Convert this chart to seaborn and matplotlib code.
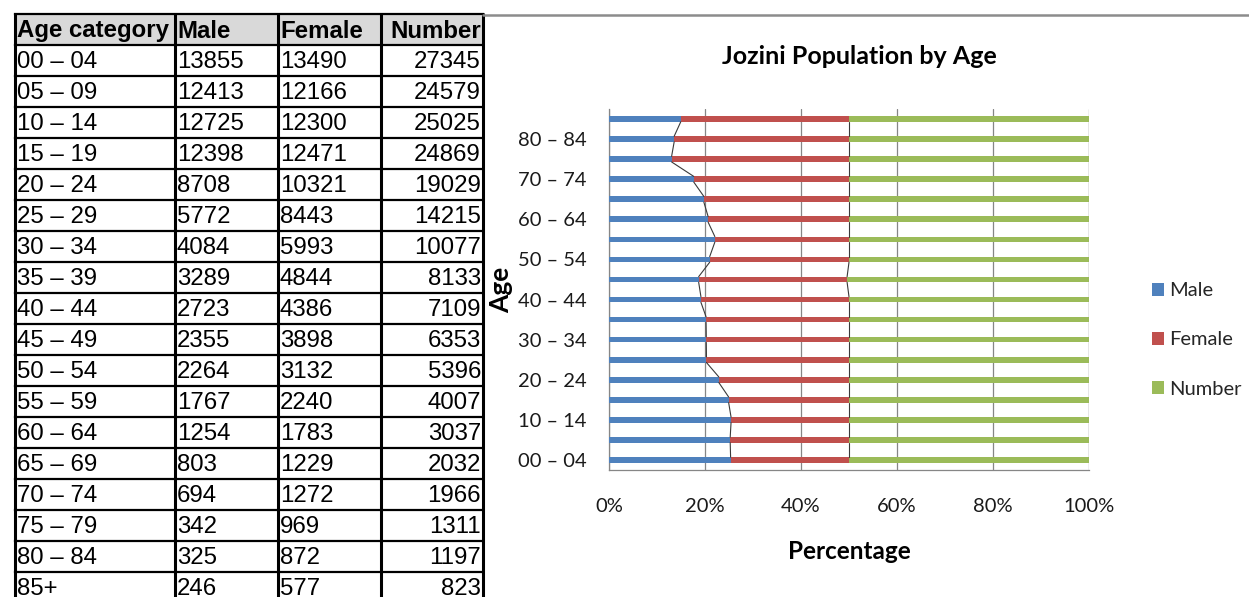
import matplotlib
matplotlib.use("Agg")
import matplotlib.pyplot as plt
import matplotlib.ticker as mtick
from matplotlib.patches import Patch, Rectangle
import pandas as pd
import seaborn as sns

sns.set_theme(style="white")
NARROW = ["Lato", "DejaVu Sans"]
ARIAL = ["Liberation Sans", "DejaVu Sans"]
plt.rcParams["font.family"] = NARROW

AGE_GROUPS = [
    "00 – 04", "05 – 09", "10 – 14", "15 – 19", "20 – 24", "25 – 29",
    "30 – 34", "35 – 39", "40 – 44", "45 – 49", "50 – 54", "55 – 59",
    "60 – 64", "65 – 69", "70 – 74", "75 – 79", "80 – 84", "85+",
]
MALE = [13855, 12413, 12725, 12398, 8708, 5772, 4084, 3289, 2723,
        2355, 2264, 1767, 1254, 803, 694, 342, 325, 246]
FEMALE = [13490, 12166, 12300, 12471, 10321, 8443, 5993, 4844, 4386,
          3898, 3132, 2240, 1783, 1229, 1272, 969, 872, 577]
NUMBER = [27345, 24579, 25025, 24869, 19029, 14215, 10077, 8133, 7109,
          6353, 5396, 4007, 3037, 2032, 1966, 1311, 1197, 823]
TABLE_HEADER = ["Age category", "Male", "Female", "Number"]
SERIES = ["Male", "Female", "Number"]

BLUE, RED, GREEN = "#4f81bd", "#c0504d", "#9bbb59"
GRID = "#868686"
BAR_W = 0.28

W, H = 1249, 597
fig = plt.figure(figsize=(W / 100, H / 100), dpi=100)

# ---- data table on the left (pixel coordinates) ----
tab = fig.add_axes([0, 0, 1, 1])
tab.set_xlim(0, W)
tab.set_ylim(H, 0)
tab.axis("off")

col_x = [15, 175, 278, 381, 483]
row_top, row_h = 14, 31
n_rows = len(AGE_GROUPS) + 1
tab.add_patch(Rectangle((col_x[0], row_top), col_x[-1] - col_x[0], row_h,
                        facecolor="#d9d9d9", edgecolor="none", zorder=0))
for i in range(n_rows + 1):
    y = row_top + i * row_h
    tab.plot([col_x[0], col_x[-1]], [y, y], color="black", lw=1.6, zorder=2,
             solid_capstyle="projecting")
for x in col_x:
    tab.plot([x, x], [row_top, row_top + n_rows * row_h], color="black", lw=2.2, zorder=2)

table_rows = [TABLE_HEADER] + [
    [a, str(m), str(f), str(n)] for a, m, f, n in zip(AGE_GROUPS, MALE, FEMALE, NUMBER)
]
for i, row in enumerate(table_rows):
    yc = row_top + (i + 0.5) * row_h + 1.5
    weight = "bold" if i == 0 else "normal"
    for j, txt in enumerate(row):
        if j == 3:
            tab.text(col_x[4] - 2, yc, txt, ha="right", va="center", fontsize=17.3,
                     family=ARIAL, weight=weight, color="black")
        else:
            tab.text(col_x[j] + 2, yc, txt, ha="left", va="center", fontsize=17.3,
                     family=ARIAL, weight=weight, color="black")

# chart area border at the top
tab.plot([483, W], [15, 15], color="#8c8c8c", lw=1.8)

# ---- 100% stacked bar chart ----
df = pd.DataFrame({"age": AGE_GROUPS, "male": MALE, "female": FEMALE, "number": NUMBER})
total = df["male"] + df["female"] + df["number"]
df["male_end"] = df["male"] / total
df["female_end"] = (df["male"] + df["female"]) / total
df["number_end"] = total / total
order = AGE_GROUPS[::-1]

ax = fig.add_axes([609 / W, 1 - 470 / H, 480 / W, 361 / H])
for col, colour in [("number_end", GREEN), ("female_end", RED), ("male_end", BLUE)]:
    sns.barplot(data=df, y="age", x=col, order=order, orient="h", color=colour,
                saturation=1, width=BAR_W, errorbar=None, linewidth=0, ax=ax, zorder=3)

# series lines joining the segment ends of neighbouring bars
pos = {a: order.index(a) for a in AGE_GROUPS}
for col in ["male_end", "female_end", "number_end"]:
    vals = df[col].tolist()
    for k in range(len(AGE_GROUPS) - 1):
        y0 = pos[AGE_GROUPS[k]] - BAR_W / 2
        y1 = pos[AGE_GROUPS[k + 1]] + BAR_W / 2
        ax.plot([vals[k], vals[k + 1]], [y0, y1], color="#3a3a3a", lw=0.8, zorder=4)

ax.set_xlim(0, 1)
ax.set_ylim(len(order) - 0.5, -0.5)
ax.xaxis.set_major_locator(mtick.MultipleLocator(0.2))
ax.xaxis.set_major_formatter(mtick.PercentFormatter(xmax=1.0, decimals=0))
labelled = AGE_GROUPS[0:17:2]
ax.set_yticks([pos[a] for a in labelled])
ax.set_yticklabels(labelled)
ax.grid(axis="x", color=GRID, lw=0.9)
ax.grid(axis="y", visible=False)
ax.set_axisbelow(True)
for side in ["top", "right"]:
    ax.spines[side].set_visible(False)
for side in ["left", "bottom"]:
    ax.spines[side].set_color(GRID)
    ax.spines[side].set_linewidth(0.9)
ax.tick_params(axis="x", length=8, width=0.9, color=GRID, direction="out", pad=12,
               labelsize=14.5, labelcolor="#1a1a1a")
ax.tick_params(axis="y", length=0, pad=16, labelsize=14.5, labelcolor="#1a1a1a")

ax.set_xlabel("Percentage", fontsize=17.5, weight="bold", color="black")
ax.xaxis.set_label_coords(0.5, -0.195)
ax.set_ylabel("Age", fontsize=19, weight="bold", color="black")
ax.yaxis.set_label_coords(-0.2, 0.5)

fig.text(859 / W, 1 - 57 / H, "Jozini Population by Age", ha="center", va="center",
         fontsize=18, weight="bold", color="black")

handles = [Patch(facecolor=c, edgecolor="none") for c in (BLUE, RED, GREEN)]
fig.legend(handles, SERIES, loc="center left", bbox_to_anchor=(1152 / W, 1 - 340 / H),
           frameon=False, fontsize=14.5, handlelength=0.6, handleheight=0.6,
           handletextpad=0.25, labelspacing=1.6, borderpad=0, borderaxespad=0)

fig.savefig("out.png", dpi=100)
